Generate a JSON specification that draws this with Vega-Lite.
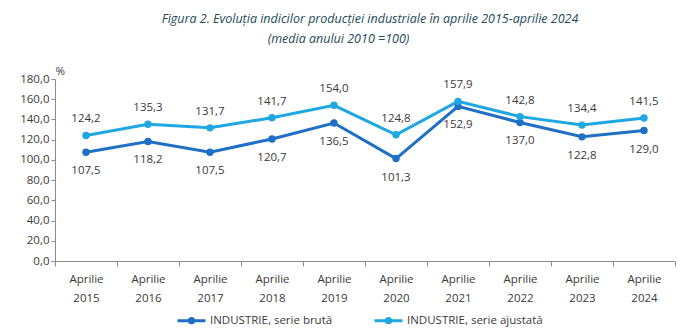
{
  "$schema": "https://vega.github.io/schema/vega-lite/v6.json",
  "width": 620,
  "height": 182,
  "autosize": {"type": "none"},
  "padding": {"left": 55, "top": 79, "right": 9, "bottom": 70},
  "background": "white",
  "config": {
    "font": "Open Sans",
    "locale": {"number": {"decimal": ",", "thousands": ".", "grouping": [3], "currency": ["", " lei"]}},
    "view": {"stroke": null},
    "axis": {"labelFont": "Open Sans", "labelFontSize": 11.5, "labelColor": "#3a3a3a", "domainColor": "#8c8c8c", "tickColor": "#8c8c8c", "grid": false},
    "legend": {"labelFont": "Open Sans", "labelFontSize": 11.5, "labelColor": "#3a3a3a"}
  },
  "title": {
    "text": "Figura 2. Evoluția indicilor producției industriale în aprilie 2015-aprilie 2024",
    "subtitle": "(media anului 2010 =100)\u2800\u2800\u2800\u2800\u2800\u2800\u2800",
    "anchor": "middle",
    "frame": "group",
    "fontStyle": "italic",
    "subtitleFontStyle": "italic",
    "font": "Open Sans",
    "subtitleFont": "Open Sans",
    "fontSize": 12.5,
    "subtitleFontSize": 12.5,
    "fontWeight": "normal",
    "color": "#1d4a57",
    "subtitleColor": "#1d4a57",
    "subtitlePadding": 7,
    "offset": 20,
    "dx": 5
  },
  "data": {
    "values": [
      {"an": "Aprilie 2015", "serie": "INDUSTRIE, serie brută", "val": 107.5},
      {"an": "Aprilie 2016", "serie": "INDUSTRIE, serie brută", "val": 118.2},
      {"an": "Aprilie 2017", "serie": "INDUSTRIE, serie brută", "val": 107.5},
      {"an": "Aprilie 2018", "serie": "INDUSTRIE, serie brută", "val": 120.7},
      {"an": "Aprilie 2019", "serie": "INDUSTRIE, serie brută", "val": 136.5},
      {"an": "Aprilie 2020", "serie": "INDUSTRIE, serie brută", "val": 101.3},
      {"an": "Aprilie 2021", "serie": "INDUSTRIE, serie brută", "val": 152.9},
      {"an": "Aprilie 2022", "serie": "INDUSTRIE, serie brută", "val": 137.0},
      {"an": "Aprilie 2023", "serie": "INDUSTRIE, serie brută", "val": 122.8},
      {"an": "Aprilie 2024", "serie": "INDUSTRIE, serie brută", "val": 129.0},
      {"an": "Aprilie 2015", "serie": "INDUSTRIE, serie ajustată", "val": 124.2},
      {"an": "Aprilie 2016", "serie": "INDUSTRIE, serie ajustată", "val": 135.3},
      {"an": "Aprilie 2017", "serie": "INDUSTRIE, serie ajustată", "val": 131.7},
      {"an": "Aprilie 2018", "serie": "INDUSTRIE, serie ajustată", "val": 141.7},
      {"an": "Aprilie 2019", "serie": "INDUSTRIE, serie ajustată", "val": 154.0},
      {"an": "Aprilie 2020", "serie": "INDUSTRIE, serie ajustată", "val": 124.8},
      {"an": "Aprilie 2021", "serie": "INDUSTRIE, serie ajustată", "val": 157.9},
      {"an": "Aprilie 2022", "serie": "INDUSTRIE, serie ajustată", "val": 142.8},
      {"an": "Aprilie 2023", "serie": "INDUSTRIE, serie ajustată", "val": 134.4},
      {"an": "Aprilie 2024", "serie": "INDUSTRIE, serie ajustată", "val": 141.5}
    ]
  },
  "encoding": {
    "x": {
      "field": "an",
      "type": "nominal",
      "sort": null,
      "scale": {"type": "band", "paddingInner": 0, "paddingOuter": 0},
      "axis": {
        "title": null,
        "labelAngle": 0,
        "labelExpr": "split(datum.label, ' ')",
        "labelLineHeight": 19,
        "labelPadding": 7,
        "tickBand": "extent",
        "tickSize": 5
      }
    },
    "y": {
      "field": "val",
      "type": "quantitative",
      "scale": {"domain": [0, 180], "nice": false},
      "axis": {
        "values": [0, 20, 40, 60, 80, 100, 120, 140, 160, 180],
        "format": ".1f",
        "tickSize": 4,
        "labelPadding": 2,
        "title": "%",
        "titleAngle": 0,
        "titleFont": "Open Sans",
        "titleFontSize": 11.5,
        "titleFontWeight": "normal",
        "titleColor": "#3a3a3a",
        "titleAlign": "left",
        "titleBaseline": "middle",
        "titleX": 0,
        "titleY": -8
      }
    }
  },
  "layer": [
    {
      "mark": {"type": "line", "strokeWidth": 3, "point": {"filled": true, "size": 55}},
      "encoding": {
        "color": {
          "field": "serie",
          "type": "nominal",
          "sort": ["INDUSTRIE, serie brută", "INDUSTRIE, serie ajustată"],
          "scale": {"domain": ["INDUSTRIE, serie brută", "INDUSTRIE, serie ajustată"], "range": ["#1f6fc4", "#1ea7e1"]},
          "legend": {
            "title": null,
            "orient": "none",
            "legendX": 121,
            "legendY": 226,
            "direction": "horizontal",
            "symbolType": "M-1,0L1,0M-0.15,0A0.15,0.15 0 1,0 0.15,0A0.15,0.15 0 1,0 -0.15,0",
            "symbolSize": 784,
            "symbolStrokeWidth": 3,
            "labelOffset": 3,
            "columnPadding": 35
          }
        }
      }
    },
    {
      "transform": [{"filter": "datum.serie === 'INDUSTRIE, serie brută'"}],
      "mark": {"type": "text", "dy": 19, "fontSize": 11.5, "color": "#3a3a3a", "font": "Open Sans"},
      "encoding": {"text": {"field": "val", "type": "quantitative", "format": ".1f"}}
    },
    {
      "transform": [{"filter": "datum.serie === 'INDUSTRIE, serie ajustată'"}],
      "mark": {"type": "text", "dy": -16, "fontSize": 11.5, "color": "#3a3a3a", "font": "Open Sans"},
      "encoding": {"text": {"field": "val", "type": "quantitative", "format": ".1f"}}
    }
  ]
}
